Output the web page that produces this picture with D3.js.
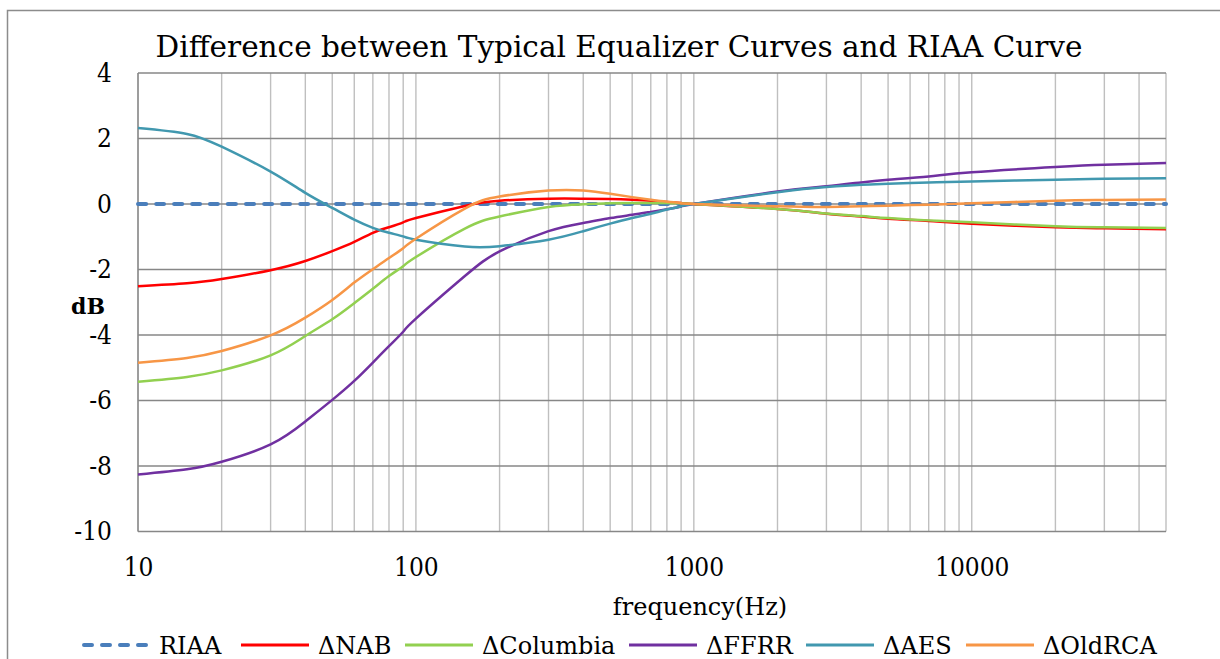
<!DOCTYPE html>
<html>
<head>
<meta charset="utf-8">
<script src="https://cdn.jsdelivr.net/npm/d3@7"></script>
<style>
  body { margin: 0; background: #fff; }
  svg text { font-family: "DejaVu Serif", "Liberation Serif", serif; fill: #000; }
  .tick text { font-stretch: condensed; }
</style>
</head>
<body>
<div id="chart"></div>
<script>
// frequencies (Hz) the curves were read at
const freqs = [10, 15, 20, 30, 40, 50, 60, 70, 80, 90, 100, 150, 200, 300, 400, 500, 600, 700, 800, 900,
  1000, 2000, 3000, 4000, 5000, 7000, 10000, 20000, 30000, 50000];

const riaa = freqs.map(() => 0);
const nab = [-2.51, -2.42, -2.29, -2.02, -1.74, -1.44, -1.16, -0.88, -0.71, -0.56, -0.43, -0.06, 0.1, 0.16, 0.16, 0.15, 0.13, 0.1, 0.06, 0.03,
  0, -0.15, -0.3, -0.38, -0.45, -0.52, -0.6, -0.71, -0.74, -0.77];
const columbia = [-5.43, -5.28, -5.08, -4.62, -4.03, -3.52, -3.03, -2.59, -2.2, -1.9, -1.62, -0.75, -0.38, -0.09, -0.01, 0.02, 0.03, 0.03, 0.03, 0.02,
  0, -0.15, -0.29, -0.37, -0.43, -0.5, -0.56, -0.68, -0.71, -0.73];
const ffrr = [-8.26, -8.1, -7.87, -7.34, -6.64, -5.98, -5.4, -4.84, -4.34, -3.9, -3.5, -2.2, -1.45, -0.83, -0.58, -0.43, -0.33, -0.24, -0.16, -0.08,
  0, 0.38, 0.54, 0.66, 0.74, 0.84, 0.97, 1.13, 1.2, 1.25];
const aes = [2.32, 2.14, 1.75, 0.99, 0.34, -0.12, -0.48, -0.73, -0.88, -0.99, -1.09, -1.3, -1.29, -1.09, -0.83, -0.6, -0.43, -0.3, -0.17, -0.07,
  0, 0.36, 0.52, 0.59, 0.62, 0.66, 0.69, 0.74, 0.77, 0.79];
const oldrca = [-4.85, -4.7, -4.49, -4.01, -3.47, -2.93, -2.4, -1.99, -1.65, -1.35, -1.06, -0.14, 0.23, 0.41, 0.41, 0.31, 0.21, 0.13, 0.07, 0.03,
  0, -0.07, -0.09, -0.07, -0.05, -0.02, 0.02, 0.1, 0.12, 0.14];

const seriesNames = ["RIAA", "\u0394NAB", "\u0394Columbia", "\u0394FFRR", "\u0394AES", "\u0394OldRCA"];
const seriesValues = [riaa, nab, columbia, ffrr, aes, oldrca];
const colors = ["#4a7ebb", "#ff0000", "#92d050", "#7030a0", "#4198af", "#f79646"];

const xMajor = [10, 100, 1000, 10000];
const yTicks = [4, 2, 0, -2, -4, -6, -8, -10];

const width = 1220, height = 659;
const margin = { top: 73, right: 54, bottom: 127.5, left: 138 };

const svg = d3.select("#chart").append("svg")
  .attr("width", width)
  .attr("height", height);

// chart border (runs off the right and bottom of the picture)
svg.append("rect")
  .attr("x", 7.5).attr("y", 10.5)
  .attr("width", 1300).attr("height", 800)
  .attr("fill", "none")
  .attr("stroke", "#8c8c8c")
  .attr("stroke-width", 1.5);

const x = d3.scaleLog()
  .domain([10, 50000])
  .range([margin.left, width - margin.right]);

const y = d3.scaleLinear()
  .domain([-10, 4])
  .range([height - margin.bottom, margin.top]);

// vertical (minor) gridlines
svg.append("g")
  .selectAll("line")
  .data(x.ticks())
  .join("line")
    .attr("x1", d => x(d)).attr("x2", d => x(d))
    .attr("y1", y(4)).attr("y2", y(-10))
    .attr("stroke", "#bfbfbf")
    .attr("stroke-width", 1.4);

// horizontal gridlines
svg.append("g")
  .selectAll("line")
  .data(yTicks)
  .join("line")
    .attr("x1", x(10)).attr("x2", x(50000))
    .attr("y1", d => y(d)).attr("y2", d => y(d))
    .attr("stroke", "#878787")
    .attr("stroke-width", 1.4);

// left axis line
svg.append("line")
  .attr("x1", x(10)).attr("x2", x(10))
  .attr("y1", y(4)).attr("y2", y(-10))
  .attr("stroke", "#878787")
  .attr("stroke-width", 1.4);

// axis labels
const yAxis = svg.append("g")
  .attr("transform", `translate(${margin.left},0)`)
  .call(d3.axisLeft(y).tickValues(yTicks).tickSize(0).tickPadding(26).tickFormat(d => String(d)));
yAxis.select(".domain").remove();
yAxis.selectAll("text").attr("font-size", 26).attr("font-family", null);

const xAxis = svg.append("g")
  .attr("transform", `translate(0,${y(-10)})`)
  .call(d3.axisBottom(x).tickValues(xMajor).tickSize(0).tickPadding(26).tickFormat(d => String(d)));
xAxis.select(".domain").remove();
xAxis.selectAll("text").attr("font-size", 26).attr("font-family", null);

// curves
const line = d3.line()
  .x(d => x(d[0]))
  .y(d => y(d[1]))
  .curve(d3.curveNatural);

seriesValues.forEach((vals, i) => {
  const path = svg.append("path")
    .datum(freqs.map((f, j) => [f, vals[j]]))
    .attr("d", line)
    .attr("fill", "none")
    .attr("stroke", colors[i])
    .attr("stroke-width", i === 0 ? 4 : 2.5);
  if (i === 0) path.attr("stroke-dasharray", "8,10").attr("stroke-linecap", "round");
});

// titles
svg.append("text")
  .attr("x", 619).attr("y", 57)
  .attr("text-anchor", "middle")
  .attr("font-size", 29.5)
  .text("Difference between Typical Equalizer Curves and RIAA Curve");

svg.append("text")
  .attr("x", 88).attr("y", 314)
  .attr("text-anchor", "middle")
  .attr("font-size", 22)
  .attr("font-weight", "bold")
  .text("dB");

svg.append("text")
  .attr("x", 700).attr("y", 615)
  .attr("text-anchor", "middle")
  .attr("font-size", 24)
  .text("frequency(Hz)");

// legend
const legendX = [82, 241, 405, 629, 806, 966];
const legend = svg.append("g")
  .selectAll("g")
  .data(seriesNames)
  .join("g")
    .attr("transform", (d, i) => `translate(${legendX[i]},645)`);

legend.append("line")
  .attr("x1", (d, i) => i === 0 ? 2 : 0)
  .attr("x2", 68)
  .attr("stroke", (d, i) => colors[i])
  .attr("stroke-width", (d, i) => i === 0 ? 4 : 2.8)
  .attr("stroke-dasharray", (d, i) => i === 0 ? "8,10" : null)
  .attr("stroke-linecap", (d, i) => i === 0 ? "round" : "butt");

legend.append("text")
  .attr("x", 77)
  .attr("y", 9)
  .attr("font-size", 24)
  .text(d => d);
</script>
</body>
</html>
